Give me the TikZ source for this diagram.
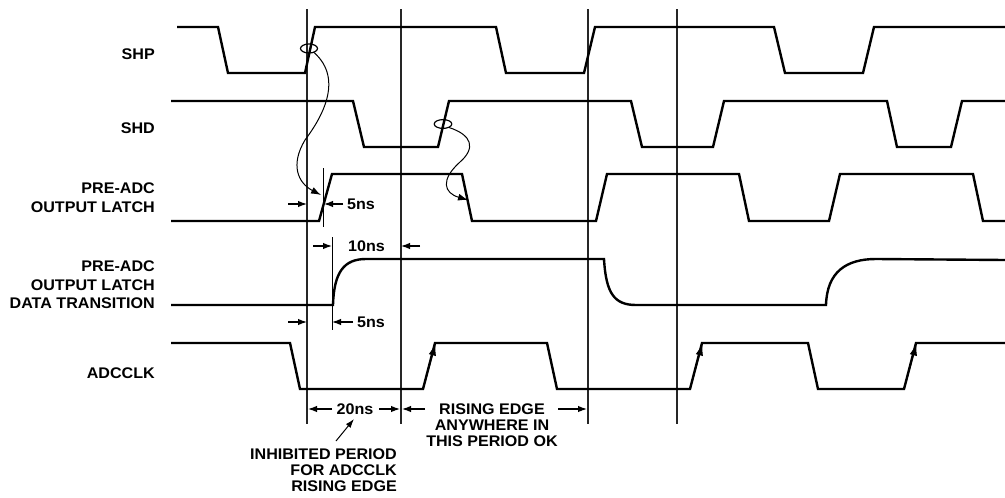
\documentclass[tikz,border=0pt]{standalone}
\usepackage{fontspec}
\setmainfont{Liberation Sans}[FakeStretch=1.045]
\usetikzlibrary{arrows.meta}
\tikzset{
  wave/.style={line width=2.4pt, line join=miter},
  guide/.style={line width=1.1pt, draw=black!85},
  tick/.style={line width=1pt},
  dim/.style={line width=1.2pt, -{Latex[length=9pt,width=6.5pt]}},
  edgearrow/.style={line width=1pt, -{Latex[length=12pt,width=7.5pt]}},
  curvearrow/.style={line width=1pt, -{Latex[length=10pt,width=7pt]}},
  loop/.style={line width=1.2pt},
  lbl/.style={font=\fontsize{15.4}{18.3}\selectfont\bfseries, inner sep=0pt},
  note/.style={font=\fontsize{15.4}{16}\selectfont\bfseries, inner sep=0pt}
}
\begin{document}
\begin{tikzpicture}[x=1pt,y=-1pt]
\useasboundingbox (0,0) rectangle (1005,498);
% guide lines
\draw[guide] (307,9) -- (307,424);
\draw[guide] (401,9) -- (401,424);
\draw[guide] (588,9) -- (588,424);
\draw[guide] (677,9) -- (677,424);
% waveforms
\draw[wave] (177,27) -- (218,27) -- (228,73) -- (305,73) -- (315,27) -- (496,27) -- (506,73) -- (584,73) -- (595,27) -- (774,27) -- (785,73) -- (863,73) -- (874,27) -- (1005,27);
\draw[wave] (171,101) -- (353,101) -- (364,147) -- (438,147) -- (449,101) -- (631,101) -- (642,147) -- (713,147) -- (724,101) -- (887,101) -- (897,147) -- (951,147) -- (962,101) -- (1005,101);
\draw[wave] (171,221) -- (319,221) -- (332,174) -- (462,174) -- (472,221) -- (596,221) -- (607,174) -- (739,174) -- (749,221) -- (829,221) -- (840,174) -- (973,174) -- (983,221) -- (1005,221);
\draw[wave] (171,305) -- (333,305) .. controls (334,272) and (344,259) .. (366,259) -- (604,259) .. controls (606,293) and (614,305) .. (636,305) -- (826,305) .. controls (827,272) and (846,259) .. (876,259) -- (1005,260);
\draw[wave] (171,343) -- (290,343) -- (300,389) -- (423,389) -- (435,343) -- (547,343) -- (557,389) -- (690,389) -- (702,343) -- (808,343) -- (818,389) -- (904,389) -- (916,343) -- (1005,343);
% arrows on ADCCLK rising edges
\draw[edgearrow] (424,386) -- (435.5,343.5);
\draw[edgearrow] (691,386) -- (702.5,343.5);
\draw[edgearrow] (905,386) -- (916.5,343.5);
% ellipses and curved arrows
\draw[loop] (309,48.5) ellipse [x radius=8.5, y radius=4.5];
\draw[loop] (443,124) ellipse [x radius=8.8, y radius=4.4];
\draw[curvearrow] (314,52.5) .. controls (345,80) and (320,120) .. (305,140) .. controls (290,165) and (298,183) .. (321,195);
\draw[curvearrow] (449,127.5) .. controls (472,135) and (476,148) .. (460,162) .. controls (440,180) and (444,193) .. (468,200);
% ticks
\draw[tick] (323,168) -- (323,227);
\draw[tick] (332,237) -- (332,330);
% dimensions
\draw[dim] (288,204) -- (307,204);
\draw[dim] (343,204) -- (324,204);
\node[lbl, anchor=base west] (t5a) at (347,209.5) {5ns};
\draw[dim] (313,246) -- (332,246);
\node[lbl, anchor=base west] (t10) at (348,251.5) {10ns};
\draw[dim] (420,246) -- (401,246);
\draw[dim] (288,322) -- (307,322);
\draw[dim] (353,322) -- (332,322);
\node[lbl, anchor=base west] (t5b) at (357,327.5) {5ns};
\draw[dim] (332,409) -- (308,409);
\node[lbl, anchor=base] (t20) at (355,414.5) {20ns};
\draw[dim] (379,409) -- (400,409);
\draw[dim] (425,409) -- (402,409);
\draw[dim] (558,409) -- (587,409);
\node[note, anchor=north, align=center] (ok) at (492,403.5) {RISING EDGE\\ANYWHERE IN\\THIS PERIOD OK};
\node[note, anchor=north east, align=right] (inh) at (397,449) {INHIBITED PERIOD\\FOR ADCCLK\\RISING EDGE};
\draw[line width=1pt, -{Latex[length=9pt,width=6pt]}] (336,441) -- (354,419);
% signal labels
\node[lbl, anchor=base east] (shp) at (155,59.3) {SHP};
\node[lbl, anchor=base east] (shd) at (155,133.3) {SHD};
\node[lbl, anchor=north east, align=right] (latch) at (155,183) {PRE-ADC\\OUTPUT LATCH};
\node[lbl, anchor=north east, align=right] (data) at (155,261) {PRE-ADC\\OUTPUT LATCH\\DATA TRANSITION};
\node[lbl, anchor=base east] (clk) at (155,378.3) {ADCCLK};
\end{tikzpicture}
\end{document}
